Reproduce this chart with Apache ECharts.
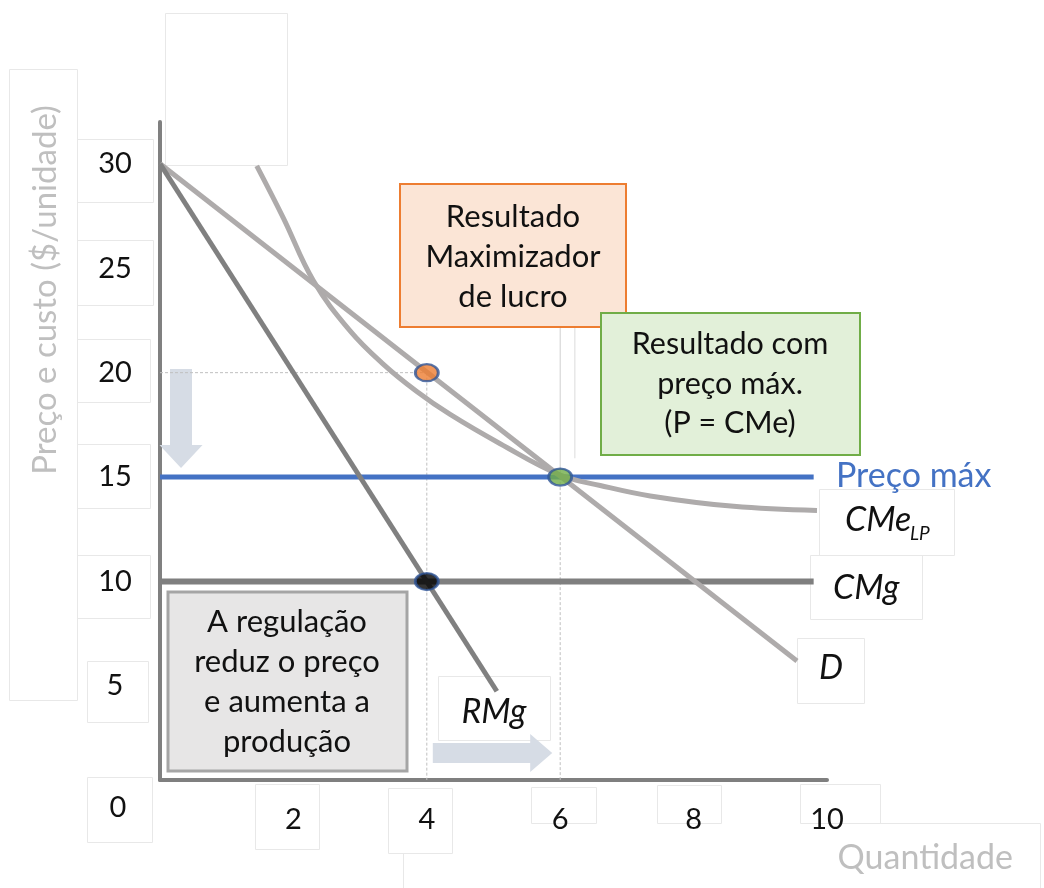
<!DOCTYPE html>
<html><head><meta charset="utf-8">
<script src="https://cdn.jsdelivr.net/npm/echarts@6/dist/echarts.min.js"></script>
<style>html,body{margin:0;padding:0;background:#fff}#c{width:1044px;height:888px}</style>
</head><body><div id="c"></div>
<script>
// ---- data ----
const xTickValues = [0, 2, 4, 6, 8, 10];
const yTickValues = [5, 10, 15, 20, 25, 30];
const demandD = [[0, 30], [9.55, 6.2]];
const marginalRevenueRMg = [[0, 30], [5.05, 4.75]];
const avgCostCMeLP = [[1.45, 29.9], [1.85, 27.4], [2.3, 24.4], [2.85, 22.0], [3.35, 20.4], [3.85, 19.1],
  [4.35, 18.0], [5.1, 16.6], [6.0, 15.1], [6.6, 14.6], [7.35, 14.1], [8.6, 13.6], [9.85, 13.4]];
const marginalCostCMg = [[0, 10], [9.8, 10]];
const priceCapLine = [[0, 15], [9.8, 15]];
const profitMaxPoint = [[4, 20]];
const priceCapPoint = [[6, 15]];
const regulatedPoint = [[4, 10]];
const guideH20 = [[0, 20], [4, 20]];
const guideV4 = [[4, 20], [4, 0.5]];
const guideV6 = [[6, 15], [6, 0.5]];
const thinV6 = [[6, 15], [6, 22.2]];
const thinV62 = [[6.22, 15.9], [6.22, 22.2]];
const arrowDown = [[0.315, 20.17, 0.315, 15.44]];
const arrowRight = [[4.09, 1.79, 5.88, 1.79]];

const FONT = 'Lato, "Open Sans", sans-serif';
const chart = echarts.init(document.getElementById('c'), null, {renderer: 'canvas'});

const ellipse = 'path://M0,8A11,8 0 1,1 22,8A11,8 0 1,1 0,8Z';

function lineSeries(data, color, width, extra) {
  return Object.assign({
    type: 'line', data: data, symbol: 'none', silent: true,
    lineStyle: {color: color, width: width, cap: 'butt'}, z: 3
  }, extra || {});
}
function dotSeries(data, fill) {
  return {
    type: 'scatter', data: data, symbol: ellipse, symbolSize: [23, 17], z: 10,
    itemStyle: {color: fill, borderColor: '#2f5597', borderWidth: 2.5}
  };
}
function arrowSeries(data, shaftW, headW, headL) {
  return {
    type: 'custom', data: data, z: 1, silent: true,
    renderItem: function (params, api) {
      const p1 = api.coord([api.value(0), api.value(1)]);
      const p2 = api.coord([api.value(2), api.value(3)]);
      const dx = p2[0] - p1[0], dy = p2[1] - p1[1];
      const L = Math.sqrt(dx * dx + dy * dy);
      const ux = dx / L, uy = dy / L, nx = -uy, ny = ux;
      const bx = p2[0] - ux * headL, by = p2[1] - uy * headL;
      const pts = [
        [p1[0] + nx * shaftW / 2, p1[1] + ny * shaftW / 2],
        [bx + nx * shaftW / 2, by + ny * shaftW / 2],
        [bx + nx * headW / 2, by + ny * headW / 2],
        [p2[0], p2[1]],
        [bx - nx * headW / 2, by - ny * headW / 2],
        [bx - nx * shaftW / 2, by - ny * shaftW / 2],
        [p1[0] - nx * shaftW / 2, p1[1] - ny * shaftW / 2]
      ];
      return {type: 'polygon', shape: {points: pts}, style: {fill: '#d6dce5'}};
    }
  };
}

const faintBoxes = [[9,69,68,631],[165,13,122,152],[77,139,76,63],[77,240,76,65],[77,339,73,63],[77,444,73,64],
  [77,555,73,63],[87,661,61,61],[87,777,65,65],[255,784,64,65],[388,788,64,65],[531,787,65,36],[657,785,64,38],
  [800,784,80,39],[819,489,135,66],[810,555,112,64],[797,638,67,65],[438,676,112,64]];

const graphics = [];
faintBoxes.forEach(function (b) {
  graphics.push({type: 'rect', z: 0, shape: {x: b[0] + 0.5, y: b[1] + 0.5, width: b[2], height: b[3]},
    style: {fill: null, stroke: '#e8e8e8', lineWidth: 1}, silent: true});
});
graphics.push({type: 'polyline', z: 0, shape: {points: [[403.5, 888], [403.5, 853]]}, style: {stroke: '#e8e8e8', lineWidth: 1}});
graphics.push({type: 'polyline', z: 0, shape: {points: [[880, 823.5], [1040.5, 823.5], [1040.5, 888]]}, style: {stroke: '#e8e8e8', lineWidth: 1, fill: null}});

// annotation boxes
graphics.push({type: 'rect', z: 50, shape: {x: 400, y: 184, width: 226, height: 143},
  style: {fill: '#fbe5d6', stroke: '#ed7d31', lineWidth: 2}});
graphics.push({type: 'text', z: 51, style: {text: 'Resultado\nMaximizador\nde lucro', x: 513, y: 257,
  textAlign: 'center', textVerticalAlign: 'middle', font: '31px ' + FONT, lineHeight: 40, fill: '#111'}});
graphics.push({type: 'rect', z: 50, shape: {x: 601, y: 313, width: 259, height: 142},
  style: {fill: '#e2f0d9', stroke: '#70ad47', lineWidth: 2}});
graphics.push({type: 'text', z: 51, style: {text: 'Resultado com\npreço máx.\n(P = CMe)', x: 730, y: 384,
  textAlign: 'center', textVerticalAlign: 'middle', font: '30.5px ' + FONT, lineHeight: 39.5, fill: '#111'}});
graphics.push({type: 'rect', z: 50, shape: {x: 168, y: 592, width: 239, height: 179},
  style: {fill: '#e7e6e6', stroke: '#a5a5a5', lineWidth: 3}});
graphics.push({type: 'text', z: 51, style: {text: 'A regulação\nreduz o preço\ne aumenta a\nprodução', x: 287, y: 682,
  textAlign: 'center', textVerticalAlign: 'middle', font: '31px ' + FONT, lineHeight: 39.7, fill: '#111'}});

// curve labels
graphics.push({type: 'text', z: 51, style: {text: 'Preço máx', x: 836, y: 476, textAlign: 'left', textVerticalAlign: 'middle',
  font: '34px ' + FONT, fill: '#4472c4'}});
graphics.push({type: 'text', z: 51, style: {text: 'CMe', x: 845, y: 520, textAlign: 'left', textVerticalAlign: 'middle',
  font: 'italic 34px ' + FONT, fill: '#111'}});
graphics.push({type: 'text', z: 51, style: {text: 'LP', x: 910, y: 534, textAlign: 'left', textVerticalAlign: 'middle',
  font: 'italic 19px ' + FONT, fill: '#111'}});
graphics.push({type: 'text', z: 51, style: {text: 'CMg', x: 833, y: 588, textAlign: 'left', textVerticalAlign: 'middle',
  font: 'italic 34px ' + FONT, fill: '#111'}});
graphics.push({type: 'text', z: 51, style: {text: 'D', x: 831, y: 668, textAlign: 'center', textVerticalAlign: 'middle',
  font: 'italic 34px ' + FONT, fill: '#111'}});
graphics.push({type: 'text', z: 51, style: {text: 'RMg', x: 494, y: 712, textAlign: 'center', textVerticalAlign: 'middle',
  font: 'italic 34px ' + FONT, fill: '#111'}});
// axis titles and origin label
graphics.push({type: 'text', z: 51, rotation: Math.PI / 2, x: 45, y: 290,
  style: {text: 'Preço e custo ($/unidade)', x: 0, y: 0, textAlign: 'center', textVerticalAlign: 'middle',
  font: '33px ' + FONT, fill: '#bfbfbf'}});
graphics.push({type: 'text', z: 51, style: {text: 'Quantidade', x: 1013, y: 858, textAlign: 'right', textVerticalAlign: 'middle',
  font: '34px ' + FONT, fill: '#bfbfbf'}});
graphics.push({type: 'text', z: 51, style: {text: '0', x: 118, y: 808, textAlign: 'center', textVerticalAlign: 'middle',
  font: '29px ' + FONT, fill: '#111'}});

const option = {
  backgroundColor: '#fff',
  animation: false,
  grid: {left: 160, right: 217, top: 122, bottom: 108},
  xAxis: {
    type: 'value', min: 0, max: 10, interval: 2,
    axisLine: {show: true, lineStyle: {color: '#7f7f7f', width: 4}},
    axisTick: {show: false}, splitLine: {show: false},
    axisLabel: {margin: 25, fontSize: 29, fontFamily: FONT, color: '#111',
      formatter: function (v) { return v === 0 ? '' : String(v); }}
  },
  yAxis: {
    type: 'value', min: 0.5, max: 32,
    axisLine: {show: true, lineStyle: {color: '#808080', width: 4}},
    axisTick: {show: false}, splitLine: {show: false},
    axisLabel: {customValues: yTickValues, margin: 45, align: 'center', fontSize: 29, fontFamily: FONT, color: '#111'}
  },
  graphic: graphics,
  series: [
    arrowSeries(arrowDown, 22, 43, 23),
    arrowSeries(arrowRight, 20, 38, 22),
    lineSeries(guideH20, '#bfbfbf', 1, {lineStyle: {color: '#bfbfbf', width: 1, type: [3, 2]}, z: 1}),
    lineSeries(guideV4, '#bfbfbf', 1, {lineStyle: {color: '#bfbfbf', width: 1, type: [3, 2]}, z: 1}),
    lineSeries(guideV6, '#bfbfbf', 1, {lineStyle: {color: '#bfbfbf', width: 1, type: [3, 2]}, z: 1}),
    lineSeries(thinV6, '#cfcfcf', 1, {z: 1}),
    lineSeries(thinV62, '#dcdcdc', 1, {z: 1}),
    lineSeries(priceCapLine, '#4472c4', 5),
    lineSeries(marginalCostCMg, '#7f7f7f', 6),
    lineSeries(avgCostCMeLP, '#aeabab', 5, {smooth: 0.4}),
    lineSeries(demandD, '#aeabab', 5),
    lineSeries(marginalRevenueRMg, '#808080', 5),
    dotSeries(profitMaxPoint, '#ed7d31'),
    dotSeries(priceCapPoint, '#70ad47'),
    dotSeries(regulatedPoint, '#000000')
  ]
};
chart.setOption(option);
</script>
</body></html>
